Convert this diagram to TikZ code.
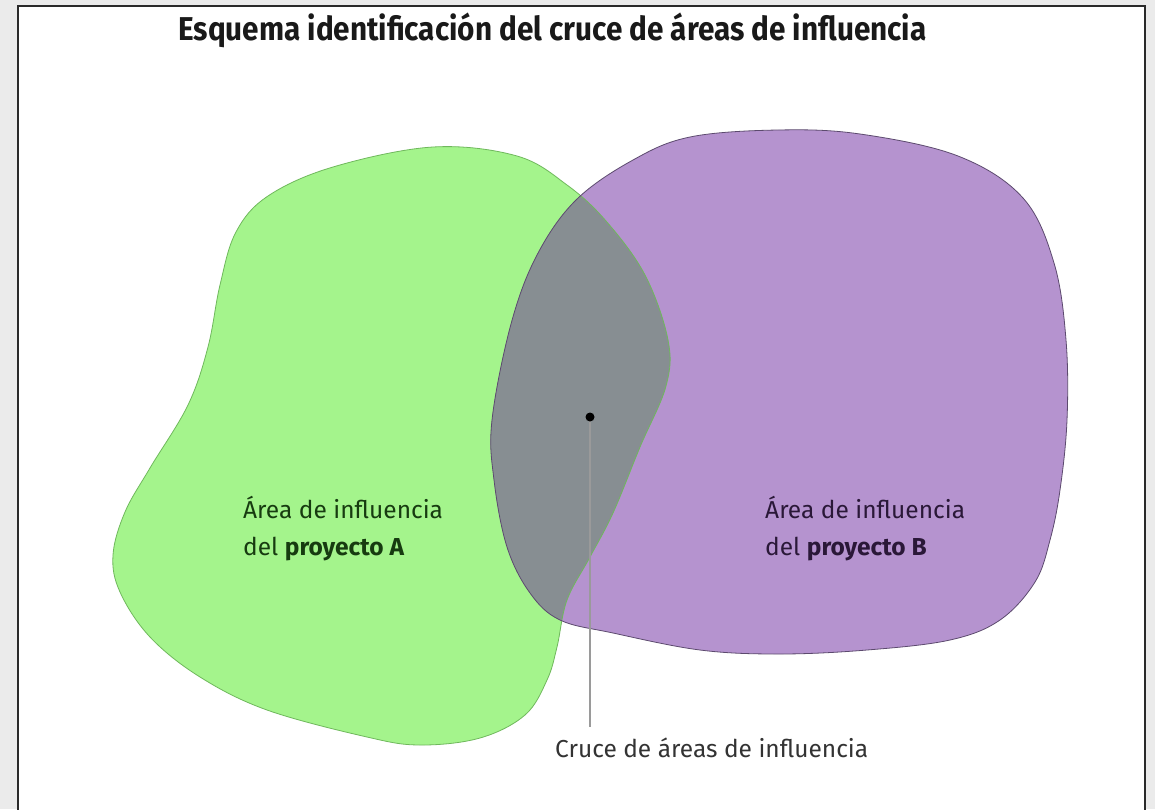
\documentclass[tikz,border=0pt]{standalone}
\usepackage{fontspec}
\setmainfont{Fira Sans}
\newfontfamily\titlefont[FakeStretch=0.9]{Fira Sans}
\newfontfamily\lblfont{Fira Sans}
\definecolor{bggray}{HTML}{EBEBEB}
\definecolor{framec}{HTML}{2A2A2A}
\definecolor{greenfill}{HTML}{A4F48C}
\definecolor{greenline}{HTML}{6FB85C}
\definecolor{purplefill}{HTML}{B593CF}
\definecolor{purpleline}{HTML}{5C4A6E}
\definecolor{overlap}{HTML}{878E92}
\definecolor{greentext}{HTML}{173B10}
\definecolor{purpletext}{HTML}{2A1838}
\definecolor{leadc}{HTML}{9A9A9A}
\tikzset{
  lbl/.style={anchor=base west, inner sep=0pt, font=\lblfont\fontsize{24.5}{28}\selectfont},
}
\begin{document}
\begin{tikzpicture}[x=1pt,y=-1pt]
\useasboundingbox (0,0) rectangle (1155,809);
\fill[bggray] (0,0) rectangle (1155,809);
\draw[framec, line width=2pt, fill=white] (18,6) rectangle (1145,820);

\def\greenpath{plot[smooth cycle, tension=0.6] coordinates {
 (433,147) (517,156) (567,185) (606,221) (645,275) (668,340) (666,386) (640,447)
 (613,513) (590,557) (567,600) (557,647) (547,680) (525,715) (480,738) (420,745)
 (367,737) (267,710) (200,677) (150,637) (120,592) (113,555) (125,512) (150,468)
 (188,405) (208,347) (220,285) (236,232) (268,196) (333,167)}}
\def\purplepath{plot[smooth cycle, tension=0.6] coordinates {
 (690,137) (778,130) (860,134) (958,156) (1023,198) (1054,263) (1066,340) (1067,420)
 (1060,490) (1050,540) (1035,582) (1000,620) (950,640) (867,650) (780,654) (700,650)
 (613,633) (560,620) (530,593) (507,547) (494,480) (492,420) (511,324) (537,255)
 (576,200) (633,160)}}

\fill[greenfill] \greenpath;
\fill[purplefill] \purplepath;
\begin{scope}
  \clip \greenpath;
  \fill[overlap] \purplepath;
\end{scope}
\draw[greenline, line width=0.8pt] \greenpath;
\draw[purpleline, line width=0.8pt] \purplepath;

\node[anchor=base west, inner sep=0pt, text=black!90, font=\titlefont\bfseries\fontsize{33}{38}\selectfont] (title) at (178,40) {Esquema identificación del cruce de áreas de influencia};

\node[lbl, text=greentext] (a1) at (243,518) {Área de influencia};
\node[lbl, text=greentext] (a2) at (243,555) {del \textbf{proyecto A}};
\node[lbl, text=purpletext] (b1) at (765,518) {Área de influencia};
\node[lbl, text=purpletext] (b2) at (765,555) {del \textbf{proyecto B}};

\node[lbl, text=black!80] (cruce) at (555,757) {Cruce de áreas de influencia};
\coordinate (leadend) at (590,727);
\coordinate (dotc) at (590,417);
\draw[leadc, line width=1.3pt] (dotc) -- (leadend);
\node[circle, fill=black, inner sep=0pt, minimum size=9pt] (dot) at (dotc) {};
\end{tikzpicture}
\end{document}
